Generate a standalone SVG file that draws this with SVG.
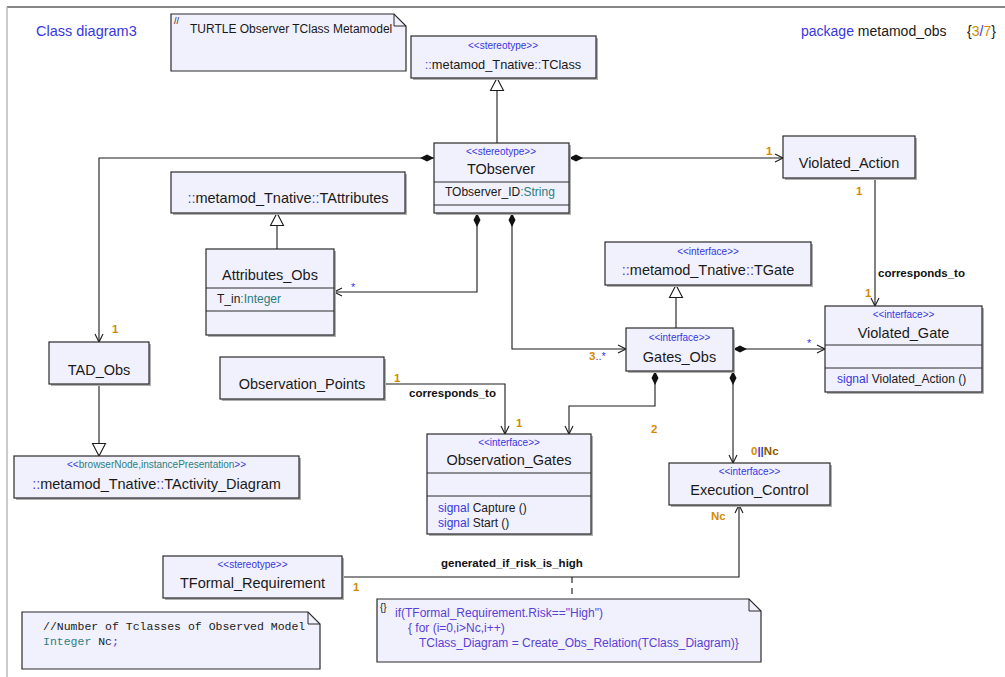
<svg xmlns="http://www.w3.org/2000/svg" width="1005" height="677" viewBox="0 0 1005 677">
  <style>
    text { font-family: "Liberation Sans", Arial, sans-serif; fill: #1a1a1a; }
    .name { font-size: 14.5px; text-anchor: middle; }
    .name.small { font-size: 12.8px; }
    .st { font-size: 10px; text-anchor: middle; fill: #3737e0; }
    .attr { font-size: 12px; }
    .blue { fill: #3737e0; }
    .teal { fill: #2b7f80; }
    .ns { fill: #5a3fd6; }
    .orange { fill: #d48a00; }
    .brown { fill: #8a5a00; }
    .mult { font-size: 11.5px; font-weight: bold; fill: #d48a00; }
    .star { font-size: 11px; fill: #3737e0; }
    .role { font-size: 11.5px; font-weight: bold; fill: #111; }
    .box { fill: #f1f1fd; stroke: #2a2a2a; stroke-width: 1.2; }
    .shadow { fill: #b0b0b0; }
    .div { stroke: #2a2a2a; stroke-width: 1; }
    .edge { fill: none; stroke: #1a1a1a; stroke-width: 1.1; }
    .comp { marker-start: url(#dia); }
    .nav { marker-end: url(#open); }
    .gen { marker-end: url(#tri); }
    .cnote { font-size: 12px; fill: #5a3fd6; }
    .mono { font-family: "Liberation Mono", "Courier New", monospace; font-size: 11.5px; }
  </style>
  <defs>
    <marker id="open" markerUnits="userSpaceOnUse" markerWidth="12" markerHeight="12" refX="8" refY="5" orient="auto" overflow="visible">
      <path d="M0,1 L8,5 L0,9" fill="none" stroke="#1a1a1a" stroke-width="1.1"/>
    </marker>
    <marker id="tri" markerUnits="userSpaceOnUse" markerWidth="16" markerHeight="16" refX="13" refY="7" orient="auto" overflow="visible">
      <path d="M0.5,0.5 L13,7 L0.5,13.5 Z" fill="#ffffff" stroke="#1a1a1a" stroke-width="1.1"/>
    </marker>
    <marker id="dia" markerUnits="userSpaceOnUse" markerWidth="16" markerHeight="10" refX="0" refY="3.5" orient="auto" overflow="visible">
      <path d="M0,3.5 L7,0 L14,3.5 L7,7 Z" fill="#111111"/>
    </marker>
  </defs>

  <rect width="1005" height="677" fill="#ffffff"/>
  <!-- frame -->
  <line x1="7" y1="7" x2="1005" y2="7" stroke="#111" stroke-width="1.2"/>
  <line x1="7" y1="7" x2="7" y2="677" stroke="#aaaaaa" stroke-width="1.2"/>

  <text x="36" y="36" font-size="14.5" class="blue">Class diagram3</text>
  <text x="801" y="36" font-size="14"><tspan class="blue">package</tspan> metamod_obs</text>
  <text x="967" y="36" font-size="14">{<tspan class="orange">3</tspan><tspan class="blue">/</tspan><tspan class="orange">7</tspan>}</text>

  <!-- connectors -->
  <g id="connectors">
    <path class="edge gen" d="M497,143 V78"/>
    <path class="edge comp nav" d="M569,158 H783"/>
    <path class="edge comp nav" d="M434,158 H99 V342"/>
    <path class="edge gen" d="M277,249 V213"/>
    <path class="edge comp nav" d="M477,213 V292 H334"/>
    <path class="edge comp nav" d="M512,213 V349 H626"/>
    <path class="edge gen" d="M676,328 V285"/>
    <path class="edge comp nav" d="M733,349 H825"/>
    <path class="edge nav" d="M875,178 V306"/>
    <path class="edge gen" d="M99,384 V456"/>
    <path class="edge nav" d="M384,384 H505 V434"/>
    <path class="edge comp nav" d="M655,371 V406 H569 V434"/>
    <path class="edge comp nav" d="M733,371 V463"/>
    <path class="edge nav" d="M342,577 H739 V505"/>
    <path class="edge" d="M572,577 V599" stroke-dasharray="6,5"/>

    <text class="mult" x="766" y="155">1</text>
    <text class="mult" x="112" y="333">1</text>
    <text class="star" x="351" y="291">*</text>
    <text class="mult" x="589" y="360">3<tspan class="star" font-weight="normal">..*</tspan></text>
    <text class="star" x="807" y="347">*</text>
    <text class="mult" x="856" y="195">1</text>
    <text class="role" x="878" y="277">corresponds_to</text>
    <text class="mult" x="865" y="297">1</text>
    <text class="mult" x="394" y="382">1</text>
    <text class="role" x="409" y="397">corresponds_to</text>
    <text class="mult" x="516" y="427">1</text>
    <text class="mult" x="651" y="433">2</text>
    <text class="mult" x="751" y="455">0<tspan class="blue">||</tspan><tspan class="brown">Nc</tspan></text>
    <text class="mult brown" x="711" y="520">Nc</text>
    <text class="mult" x="353" y="591">1</text>
    <text class="role" x="441" y="567">generated_if_risk_is_high</text>
  </g>

  <g id="note-title">
    <path class="box" d="M171,14 H394 L406,26 V71 H171 Z"/>
    <path d="M394,14 V26 H406" fill="none" stroke="#2a2a2a" stroke-width="1"/>
    <text x="174" y="24" font-size="9">//</text>
    <text x="190" y="33" font-size="12">TURTLE Observer TClass Metamodel</text>
  </g>

  <g id="tclass">
    <rect class="shadow" x="413" y="38" width="185" height="42"/>
    <rect class="box" x="411" y="36" width="185" height="42"/>
    <text class="st" x="503" y="49">&lt;&lt;stereotype&gt;&gt;</text>
    <text class="name small" x="503" y="69"><tspan class="ns">::</tspan>metamod_Tnative<tspan class="ns">::</tspan>TClass</text>
  </g>

  <g id="tobserver">
    <rect class="shadow" x="436" y="145" width="135" height="70"/>
    <rect class="box" x="434" y="143" width="135" height="70"/>
    <text class="st" x="501" y="155">&lt;&lt;stereotype&gt;&gt;</text>
    <text class="name" x="501" y="174">TObserver</text>
    <line class="div" x1="434" y1="182" x2="569" y2="182"/>
    <text class="attr" x="445" y="196">TObserver_ID<tspan class="teal">:String</tspan></text>
    <line class="div" x1="434" y1="205" x2="569" y2="205"/>
  </g>

  <g id="violated-action">
    <rect class="shadow" x="785" y="138" width="132" height="42"/>
    <rect class="box" x="783" y="136" width="132" height="42"/>
    <text class="name" x="849" y="168">Violated_Action</text>
  </g>

  <g id="tattributes">
    <rect class="shadow" x="173" y="174" width="234" height="41"/>
    <rect class="box" x="171" y="172" width="234" height="41"/>
    <text class="name" x="288" y="203"><tspan class="ns">::</tspan>metamod_Tnative<tspan class="ns">::</tspan>TAttributes</text>
  </g>

  <g id="attributes-obs">
    <rect class="shadow" x="208" y="251" width="128" height="86"/>
    <rect class="box" x="206" y="249" width="128" height="86"/>
    <text class="name" x="270" y="280">Attributes_Obs</text>
    <line class="div" x1="206" y1="288" x2="334" y2="288"/>
    <text class="attr" x="217" y="303">T_in<tspan class="teal">:Integer</tspan></text>
    <line class="div" x1="206" y1="311" x2="334" y2="311"/>
  </g>

  <g id="tgate">
    <rect class="shadow" x="607" y="244" width="206" height="43"/>
    <rect class="box" x="605" y="242" width="206" height="43"/>
    <text class="st" x="708" y="255">&lt;&lt;interface&gt;&gt;</text>
    <text class="name" x="708" y="275"><tspan class="ns">::</tspan>metamod_Tnative<tspan class="ns">::</tspan>TGate</text>
  </g>

  <g id="gates-obs">
    <rect class="shadow" x="628" y="330" width="107" height="43"/>
    <rect class="box" x="626" y="328" width="107" height="43"/>
    <text class="st" x="679.5" y="341">&lt;&lt;interface&gt;&gt;</text>
    <text class="name" x="679.5" y="362">Gates_Obs</text>
  </g>

  <g id="violated-gate">
    <rect class="shadow" x="827" y="308" width="157" height="86"/>
    <rect class="box" x="825" y="306" width="157" height="86"/>
    <text class="st" x="903.5" y="318">&lt;&lt;interface&gt;&gt;</text>
    <text class="name" x="903.5" y="338">Violated_Gate</text>
    <line class="div" x1="825" y1="345" x2="982" y2="345"/>
    <line class="div" x1="825" y1="368" x2="982" y2="368"/>
    <text class="attr" x="837" y="383"><tspan class="blue">signal</tspan> Violated_Action ()</text>
  </g>

  <g id="tad-obs">
    <rect class="shadow" x="51" y="344" width="100" height="42"/>
    <rect class="box" x="49" y="342" width="100" height="42"/>
    <text class="name" x="99" y="375">TAD_Obs</text>
  </g>

  <g id="tactivity-diagram">
    <rect class="shadow" x="16" y="458" width="285" height="42"/>
    <rect class="box" x="14" y="456" width="285" height="42"/>
    <text class="st" x="156.5" y="468">&lt;&lt;<tspan class="teal">browserNode,instancePresentation</tspan>&gt;&gt;</text>
    <text class="name" x="156.5" y="489"><tspan class="ns">::</tspan>metamod_Tnative<tspan class="ns">::</tspan>TActivity_Diagram</text>
  </g>

  <g id="observation-points">
    <rect class="shadow" x="222" y="359" width="164" height="42"/>
    <rect class="box" x="220" y="357" width="164" height="42"/>
    <text class="name" x="302" y="389">Observation_Points</text>
  </g>

  <g id="observation-gates">
    <rect class="shadow" x="429" y="436" width="164" height="100"/>
    <rect class="box" x="427" y="434" width="164" height="100"/>
    <text class="st" x="509" y="446">&lt;&lt;interface&gt;&gt;</text>
    <text class="name" x="509" y="465">Observation_Gates</text>
    <line class="div" x1="427" y1="473" x2="591" y2="473"/>
    <line class="div" x1="427" y1="496" x2="591" y2="496"/>
    <text class="attr" x="438" y="512"><tspan class="blue">signal</tspan> Capture ()</text>
    <text class="attr" x="438" y="527"><tspan class="blue">signal</tspan> Start ()</text>
  </g>

  <g id="execution-control">
    <rect class="shadow" x="671" y="465" width="161" height="42"/>
    <rect class="box" x="669" y="463" width="161" height="42"/>
    <text class="st" x="749.5" y="475">&lt;&lt;interface&gt;&gt;</text>
    <text class="name" x="749.5" y="495">Execution_Control</text>
  </g>

  <g id="tformal-requirement">
    <rect class="shadow" x="165" y="558" width="179" height="42"/>
    <rect class="box" x="163" y="556" width="179" height="42"/>
    <text class="st" x="252.5" y="568">&lt;&lt;stereotype&gt;&gt;</text>
    <text class="name" x="252.5" y="588">TFormal_Requirement</text>
  </g>

  <g id="note-constraint">
    <path class="box" d="M377,599 H749 L761,611 V662 H377 Z"/>
    <path d="M749,599 V611 H761" fill="none" stroke="#2a2a2a" stroke-width="1"/>
    <text x="380" y="611" font-size="10">{}</text>
    <text class="cnote" x="395" y="617">if(TFormal_Requirement.Risk=="High")</text>
    <text class="cnote" x="408" y="632">{ for (i=0,i&gt;Nc,i++)</text>
    <text class="cnote" x="419" y="647">TClass_Diagram = Create_Obs_Relation(TClass_Diagram)}</text>
  </g>

  <g id="note-declaration">
    <path class="box" d="M22,612 H308 L320,624 V669 H22 Z"/>
    <path d="M308,612 V624 H320" fill="none" stroke="#2a2a2a" stroke-width="1"/>
    <text class="mono" x="43" y="630" fill="#3a9a3a">//Number of Tclasses of Observed Model</text>
    <text class="mono" x="43" y="645"><tspan class="teal">Integer</tspan> Nc<tspan class="blue">;</tspan></text>
  </g>
</svg>
